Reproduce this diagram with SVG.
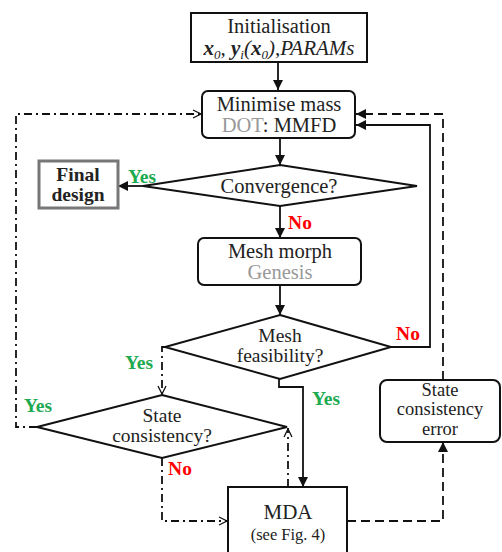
<svg xmlns="http://www.w3.org/2000/svg" width="502" height="552" viewBox="0 0 502 552">
<defs>
<marker id="fa" viewBox="0 0 10 10" refX="10" refY="5" markerWidth="10" markerHeight="10" markerUnits="userSpaceOnUse" orient="auto"><path d="M0,0 L10,5 L0,10 z" fill="#111"/></marker>
<marker id="oa" viewBox="0 0 10 10" refX="10" refY="5" markerWidth="10" markerHeight="10" markerUnits="userSpaceOnUse" orient="auto"><path d="M1,1 L9,5 L1,9" fill="none" stroke="#111" stroke-width="1.3"/></marker>
<style>
text{font-family:"Liberation Serif","Times New Roman",serif;font-size:19.5px;fill:#222;text-anchor:middle}
.box{fill:#fff;stroke:#111;stroke-width:2}
.c{fill:none;stroke:#111;stroke-width:1.8}
.dd{stroke-dasharray:8,4,2,4}
.da{stroke-dasharray:9,5}
.y{fill:#1eaa50;font-weight:bold}
.n{fill:#f00;font-weight:bold}
.g{fill:#999}
</style>
</defs>
<rect width="502" height="552" fill="#fff"/>
<g id="connectors">
<path class="c" d="M278,62 V90" marker-end="url(#fa)"/>
<path class="c" d="M280,138 V165" marker-end="url(#fa)"/>
<path class="c" d="M143,186 H118" marker-end="url(#fa)"/>
<path class="c" d="M280,206 V238" marker-end="url(#fa)"/>
<path class="c" d="M280,285 V315" marker-end="url(#fa)"/>
<path class="c" d="M391,347 H430 V125 H356" marker-end="url(#fa)"/>
<path class="c" d="M279,379 V387 H303 V487" marker-end="url(#fa)"/>
<path class="c dd" d="M165,347 H162 V395" marker-end="url(#oa)"/>
<path class="c dd" d="M37,427 H16 V114 H202" marker-end="url(#oa)"/>
<path class="c dd" d="M288,487 V428" marker-end="url(#oa)"/>
<path class="c dd" d="M162,458 V521 H228" marker-end="url(#oa)"/>
<path class="c da" d="M347,521 H443 V442" marker-end="url(#fa)"/>
<path class="c da" d="M443,380 V114 H356" marker-end="url(#fa)"/>
</g>
<g id="init">
<rect class="box" x="191" y="13" width="176" height="49"/>
<text x="279" y="33" style="font-size:20.5px">Initialisation</text>
<text x="279" y="55" style="font-style:italic;font-size:21px"><tspan font-weight="bold">x</tspan><tspan font-size="13" dy="4">0</tspan><tspan dy="-4">, </tspan><tspan font-weight="bold">y</tspan><tspan font-size="13" dy="4">i</tspan><tspan dy="-4">(</tspan><tspan font-weight="bold">x</tspan><tspan font-size="13" dy="4">0</tspan><tspan dy="-4">),PARAMs</tspan></text>
</g>
<g id="minimise">
<rect class="box" x="202" y="91" width="153" height="47" rx="6"/>
<text x="279" y="111" style="font-size:20.5px">Minimise mass</text>
<text x="279" y="132" style="font-size:20.5px"><tspan class="g">DOT</tspan>: MMFD</text>
</g>
<g id="convergence">
<path class="box" d="M280,165 L417,186 L280,206 L143,186 Z"/>
<text x="279" y="193" style="font-size:20.5px">Convergence?</text>
</g>
<g id="final">
<rect x="39" y="161" width="79" height="47" fill="#fff" stroke="#777" stroke-width="3"/>
<text x="78" y="181" style="font-weight:bold">Final</text>
<text x="78" y="201" style="font-weight:bold">design</text>
</g>
<g id="meshmorph">
<rect class="box" x="198" y="238" width="163" height="47" rx="6"/>
<text x="280" y="258" style="font-size:20.5px">Mesh morph</text>
<text x="280" y="279" class="g" style="font-size:20.5px">Genesis</text>
</g>
<g id="feasibility">
<path class="box" d="M280,315 L391,347 L280,379 L165,347 Z"/>
<text x="280" y="342">Mesh</text>
<text x="280" y="362">feasibility?</text>
</g>
<g id="stateconsistency">
<path class="box" d="M162,395 L287,427 L162,458 L37,427 Z"/>
<text x="162" y="422">State</text>
<text x="162" y="442">consistency?</text>
</g>
<g id="mda">
<rect class="box" x="228" y="487" width="119" height="75"/>
<text x="288" y="519" style="font-size:21px">MDA</text>
<text x="288" y="540" style="font-size:16.5px">(see Fig. 4)</text>
</g>
<g id="error">
<rect class="box" x="380" y="380" width="120" height="62" rx="7"/>
<text x="440" y="396" style="font-size:18.5px">State</text>
<text x="440" y="415" style="font-size:18.5px">consistency</text>
<text x="440" y="435" style="font-size:18.5px">error</text>
</g>
<g id="labels">
<text x="142" y="183" class="y">Yes</text>
<text x="300" y="229" class="n">No</text>
<text x="408" y="340" class="n">No</text>
<text x="139" y="369" class="y">Yes</text>
<text x="326" y="405" class="y">Yes</text>
<text x="38" y="412" class="y">Yes</text>
<text x="180" y="475" class="n">No</text>
</g>
</svg>
